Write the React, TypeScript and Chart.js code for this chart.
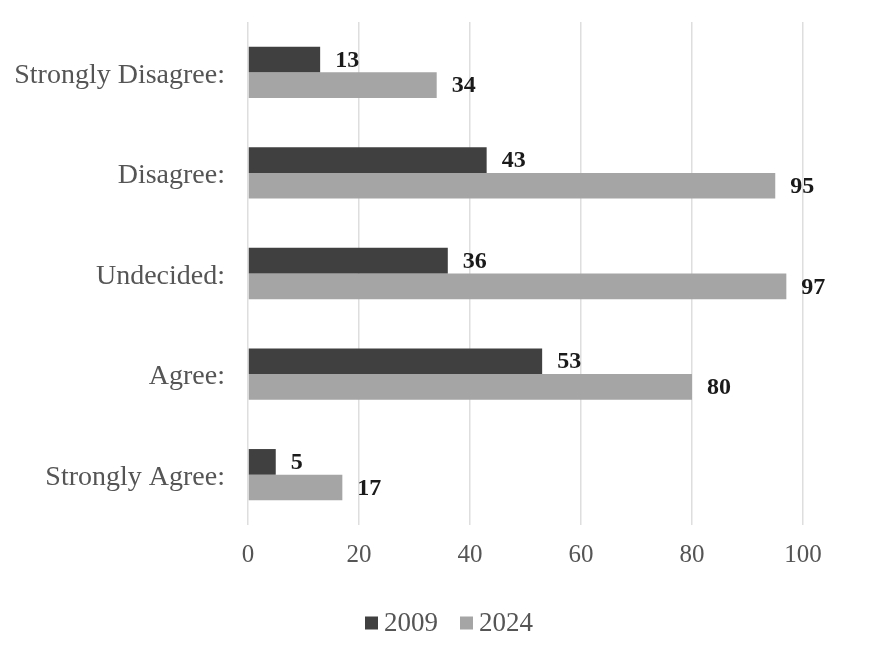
import React, { useEffect, useRef } from "react";
import { Chart, registerables } from "chart.js";

Chart.register(...registerables);

const categories = ["Strongly Disagree:", "Disagree:", "Undecided:", "Agree:", "Strongly Agree:"];
const series2009 = [13, 43, 36, 53, 5];
const series2024 = [34, 95, 97, 80, 17];
const seriesLabels = ["2009", "2024"];
const xTicks = [0, 20, 40, 60, 80, 100];

const FONT = "'Liberation Serif', 'Times New Roman', serif";
const COLOR_2009 = "#404040";
const COLOR_2024 = "#a5a5a5";
const TEXT_GRAY = "#555555";

const valueLabels = {
  id: "valueLabels",
  afterDatasetsDraw(chart: any) {
    const ctx = chart.ctx;
    ctx.save();
    ctx.font = `bold 24px ${FONT}`;
    ctx.fillStyle = "#1a1a1a";
    ctx.textAlign = "left";
    ctx.textBaseline = "middle";
    chart.data.datasets.forEach((ds: any, i: number) => {
      const meta = chart.getDatasetMeta(i);
      meta.data.forEach((el: any, j: number) => {
        ctx.fillText(String(ds.data[j]), el.x + 15, el.y + 1);
      });
    });
    ctx.restore();
  },
};

const customLegend = {
  id: "customLegend",
  afterDraw(chart: any) {
    const ctx = chart.ctx;
    ctx.save();
    ctx.font = `27px ${FONT}`;
    const box = 13;
    const gapBoxText = 6;
    const gapItems = 22;
    const items = chart.data.datasets.map((ds: any) => ({
      label: ds.label,
      color: ds.backgroundColor,
      w: ctx.measureText(ds.label).width,
    }));
    let total = 0;
    items.forEach((it: any, i: number) => {
      total += box + gapBoxText + it.w + (i < items.length - 1 ? gapItems : 0);
    });
    let x = 449 - total / 2;
    const yMid = 623;
    items.forEach((it: any) => {
      ctx.fillStyle = it.color;
      ctx.fillRect(x, yMid - box / 2, box, box);
      x += box + gapBoxText;
      ctx.fillStyle = TEXT_GRAY;
      ctx.textBaseline = "middle";
      ctx.textAlign = "left";
      ctx.fillText(it.label, x, yMid + 1);
      x += it.w + gapItems;
    });
    ctx.restore();
  },
};

const whiteBg = {
  id: "whiteBg",
  beforeDraw(chart: any) {
    const ctx = chart.ctx;
    ctx.save();
    ctx.fillStyle = "#ffffff";
    ctx.fillRect(0, 0, chart.width, chart.height);
    ctx.restore();
  },
};

export default function App() {
  const ref = useRef<HTMLCanvasElement | null>(null);
  useEffect(() => {
    if (!ref.current) return;
    const chart = new Chart(ref.current, {
      type: "bar",
      data: {
        labels: categories,
        datasets: [
          {
            label: seriesLabels[0],
            data: series2009,
            backgroundColor: COLOR_2009,
            categoryPercentage: 0.51,
            barPercentage: 1.0,
          },
          {
            label: seriesLabels[1],
            data: series2024,
            backgroundColor: COLOR_2024,
            categoryPercentage: 0.51,
            barPercentage: 1.0,
          },
        ],
      },
      options: {
        indexAxis: "y",
        responsive: false,
        animation: false,
        devicePixelRatio: 1,
        layout: { padding: { left: 0, right: 76, top: 22, bottom: 0 } },
        plugins: {
          legend: { display: false },
          tooltip: { enabled: false },
        },
        scales: {
          x: {
            min: 0,
            max: 100,
            afterBuildTicks(scale: any) {
              scale.ticks = xTicks.map((v) => ({ value: v }));
            },
            afterFit(scale: any) {
              scale.height = 124;
              scale.paddingLeft = 0;
              scale.paddingRight = 0;
            },
            grid: { color: "#dedede", lineWidth: 1.5, drawTicks: false },
            border: { display: false },
            ticks: {
              color: TEXT_GRAY,
              font: { family: FONT, size: 25 },
              padding: 15,
            },
          },
          y: {
            afterFit(scale: any) {
              scale.width = 248;
              scale.paddingTop = 0;
              scale.paddingBottom = 0;
            },
            grid: { display: false, drawTicks: false },
            border: { display: false },
            ticks: {
              color: TEXT_GRAY,
              font: { family: FONT, size: 28 },
              padding: 23,
              labelOffset: 3,
            },
          },
        },
      },
      plugins: [whiteBg, valueLabels, customLegend],
    });
    return () => chart.destroy();
  }, []);
  return (
    <div style={{ position: "fixed", left: 0, top: 0, width: 879, height: 649, background: "#fff" }}>
      <canvas ref={ref} width={879} height={649} />
    </div>
  );
}
